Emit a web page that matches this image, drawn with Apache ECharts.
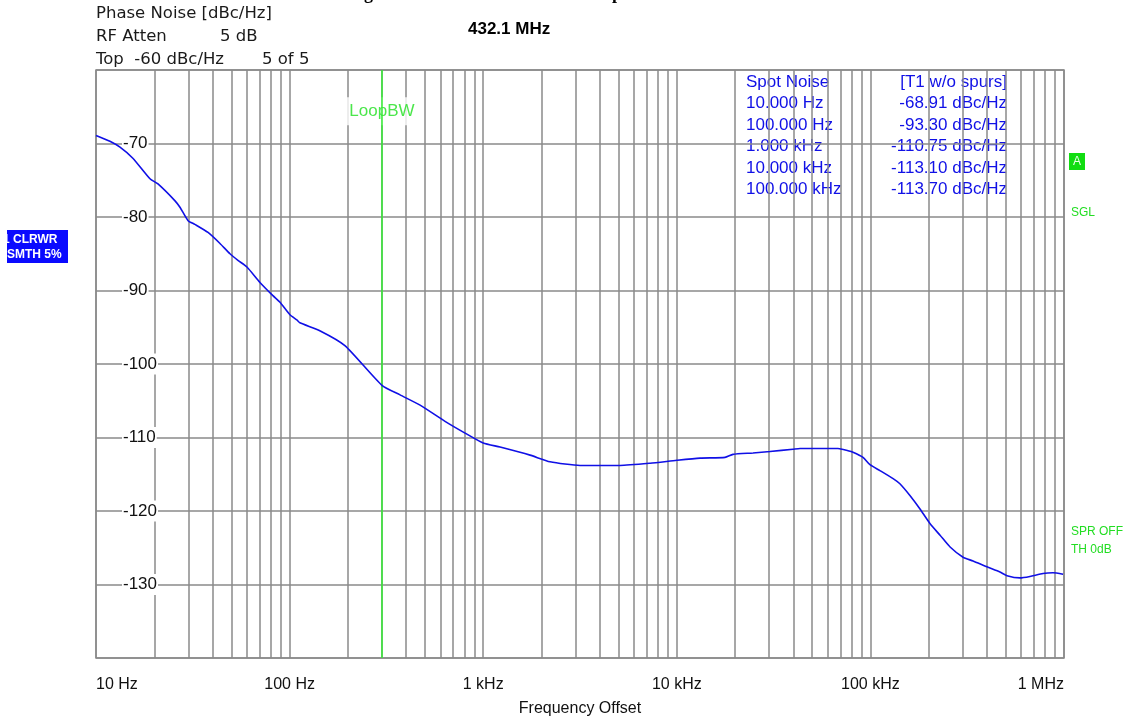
<!DOCTYPE html>
<html>
<head>
<meta charset="utf-8">
<script src="https://cdn.jsdelivr.net/npm/echarts@6/dist/echarts.min.js"></script>
<style>
html,body{margin:0;padding:0;background:#fff;}
#chart{width:1126px;height:717px;}
</style>
</head>
<body>
<div id="chart"></div>
<script>
// ---- data ----
const freqHz = [10, 11.8, 13.3, 15.5, 19.0, 20.9, 25.6, 27.2, 29.9, 32.4, 37.9, 43.7, 49.2, 54.1, 60.2, 70.3, 82.0, 89.2, 100.4, 109, 113, 144, 193, 300, 372, 472, 635, 806, 1000, 1222, 1746, 2214, 3162, 5090, 7278, 10000, 13180, 17750, 19500, 24770, 30300, 39800, 43300, 68000, 76600, 81300, 91600, 99500, 112000, 131000, 142000, 160000, 180000, 203000, 229000, 258000, 301000, 339000, 400000, 467000, 508000, 593000, 667000, 779000, 877000, 989000];
const noiseDbc = [-68.9, -69.7, -70.5, -72.0, -74.8, -75.5, -77.8, -78.7, -80.5, -81.0, -82.1, -83.6, -85.0, -85.9, -86.8, -88.9, -90.7, -91.6, -93.3, -94.0, -94.4, -95.5, -97.5, -102.9, -104.2, -105.6, -107.8, -109.4, -110.75, -111.3, -112.4, -113.3, -113.8, -113.8, -113.5, -113.1, -112.8, -112.7, -112.3, -112.1, -111.9, -111.6, -111.5, -111.5, -111.8, -112.0, -112.7, -113.7, -114.5, -115.6, -116.3, -117.9, -119.7, -121.7, -123.3, -124.9, -126.3, -126.8, -127.6, -128.3, -128.8, -129.1, -128.9, -128.5, -128.4, -128.6];

const decadeTicks = [10, 100, 1000, 10000, 100000, 1000000];
const decadeLabels = ['10 Hz', '100 Hz', '1 kHz', '10 kHz', '100 kHz', '1 MHz'];
const yTicks = [-140, -130, -120, -110, -100, -90, -80, -70, -60];

const loopBwHz = 300;
const loopBwLabel = 'LoopBW';

const spotHeader = ['Spot Noise', '[T1 w/o spurs]'];
const spotFreqLabels = ['10.000 Hz', '100.000 Hz', '1.000 kHz', '10.000 kHz', '100.000 kHz'];
const spotValues = ['-68.91', '-93.30', '-110.75', '-113.10', '-113.70'];

const headerLines = [['Phase Noise [dBc/Hz]', ''], ['RF Atten', '5 dB'], ['Top  -60 dBc/Hz', '5 of 5']];
const carrierLabel = '432.1 MHz';

// ---- chart ----
const GRID = {left: 96, right: 62, top: 70, bottom: 59};
const gridColor = '#8a8a8a';
const blue = '#1010e6';
const green = '#22dd22';

// minor log gridlines (2..9 within each decade)
const minorLines = [];
for (let d = 0; d < decadeTicks.length - 1; d++) {
  for (let m = 2; m <= 9; m++) minorLines.push({xAxis: decadeTicks[d] * m});
}

const labelMap = {};
decadeTicks.forEach((t, i) => labelMap[t] = decadeLabels[i]);

const graphics = [];
// header
const hy = [14, 37, 60];
const hx2 = [0, 220, 262];
headerLines.forEach((l, i) => {
  graphics.push({type: 'text', x: 96, y: hy[i], style: {text: l[0], font: '16.5px "DejaVu Sans"', fill: '#1a1a1a', textVerticalAlign: 'middle'}});
  if (l[1]) graphics.push({type: 'text', x: hx2[i], y: hy[i], style: {text: l[1], font: '16.5px "DejaVu Sans"', fill: '#1a1a1a', textVerticalAlign: 'middle'}});
});
graphics.push({type: 'text', x: 468, y: 29, style: {text: carrierLabel, font: 'bold 17px "Liberation Sans"', fill: '#000', textVerticalAlign: 'middle'}});
// cut-off caption fragments at very top
graphics.push({type: 'text', left: 364, top: -15, style: {text: 'g', font: 'bold 18px "Liberation Serif"', fill: '#000'}});
graphics.push({type: 'text', left: 612, top: -15, style: {text: 'p', font: 'bold 18px "Liberation Serif"', fill: '#000'}});

// spot noise table
const rowY = [82, 103.5, 125, 146.5, 168, 189.5];
const tFont = '17px "Liberation Sans"';
graphics.push({type: 'text', x: 746, y: rowY[0], style: {text: spotHeader[0], font: tFont, fill: blue, textVerticalAlign: 'middle'}});
graphics.push({type: 'text', x: 1007, y: rowY[0], style: {text: spotHeader[1], font: tFont, fill: blue, textAlign: 'right', textVerticalAlign: 'middle'}});
spotFreqLabels.forEach((f, i) => {
  graphics.push({type: 'text', x: 746, y: rowY[i + 1], style: {text: f, font: tFont, fill: blue, textVerticalAlign: 'middle'}});
  graphics.push({type: 'text', x: 1007, y: rowY[i + 1], style: {text: spotValues[i] + ' dBc/Hz', font: tFont, fill: blue, textAlign: 'right', textVerticalAlign: 'middle'}});
});

// left trace box
graphics.push({type: 'rect', shape: {x: 7, y: 230, width: 61, height: 33}, style: {fill: '#0a0aff'}});
graphics.push({type: 'text', x: 3, y: 240, style: {text: '1 CLRWR', font: 'bold 12px "Liberation Sans"', fill: '#fff', textVerticalAlign: 'middle'}});
graphics.push({type: 'text', x: 7, y: 255, style: {text: 'SMTH 5%', font: 'bold 12px "Liberation Sans"', fill: '#fff', textVerticalAlign: 'middle'}});

// right side status labels
graphics.push({type: 'rect', shape: {x: 1069, y: 153, width: 16, height: 17}, style: {fill: '#11dd11'}});
graphics.push({type: 'text', x: 1077, y: 162, style: {text: 'A', font: '12px "Liberation Sans"', fill: '#e8ffe8', textAlign: 'center', textVerticalAlign: 'middle'}});
graphics.push({type: 'text', x: 1071, y: 213, style: {text: 'SGL', font: '12px "Liberation Sans"', fill: green, textVerticalAlign: 'middle'}});
graphics.push({type: 'text', x: 1071, y: 532, style: {text: 'SPR OFF', font: '12px "Liberation Sans"', fill: green, textVerticalAlign: 'middle'}});
graphics.push({type: 'text', x: 1071, y: 550, style: {text: 'TH 0dB', font: '12px "Liberation Sans"', fill: green, textVerticalAlign: 'middle'}});

const chart = echarts.init(document.getElementById('chart'), null, {renderer: 'canvas'});
chart.setOption({
  backgroundColor: '#fff',
  animation: false,
  grid: Object.assign({show: true, borderColor: gridColor, borderWidth: 1.5, backgroundColor: 'transparent', containLabel: false, outerBoundsMode: 'none'}, GRID),
  xAxis: {
    type: 'log', logBase: 10, min: decadeTicks[0], max: decadeTicks[decadeTicks.length - 1],
    axisLine: {show: false}, axisTick: {show: false},
    splitLine: {show: true, lineStyle: {color: gridColor, width: 1.5}},
    axisLabel: {
      fontFamily: 'Liberation Sans', fontSize: 16, color: '#111', margin: 19,
      formatter: v => labelMap[Math.round(v)] || '',
      alignMinLabel: 'left', alignMaxLabel: 'right'
    },
    name: 'Frequency Offset', nameLocation: 'middle', nameGap: 43,
    nameTextStyle: {fontFamily: 'Liberation Sans', fontSize: 16, color: '#111'}
  },
  yAxis: {
    type: 'value', min: yTicks[0], max: yTicks[yTicks.length - 1], interval: 10,
    axisLine: {show: false}, axisTick: {show: false},
    splitLine: {show: true, lineStyle: {color: gridColor, width: 1.5}},
    axisLabel: {
      inside: true, margin: 26, showMinLabel: false, showMaxLabel: false,
      fontFamily: 'Liberation Sans', fontSize: 17, color: '#111',
      backgroundColor: '#fff', padding: [2, 1, 2, 1]
    },
    z: 5
  },
  graphic: graphics,
  series: [
    {
      name: 'minor-grid', type: 'line', data: [], silent: true, z: 1,
      markLine: {
        silent: true, symbol: 'none', animation: false,
        label: {show: false},
        lineStyle: {color: gridColor, width: 1.5, type: 'solid'},
        data: minorLines
      }
    },
    {
      name: 'loopbw-label', type: 'scatter', z: 6, silent: true,
      symbol: 'rect', symbolSize: [72, 28], itemStyle: {color: '#fff'},
      data: [[loopBwHz, -65.6]],
      label: {
        show: true, position: 'inside', formatter: loopBwLabel,
        fontFamily: 'Liberation Sans', fontSize: 17, color: '#1ee01e'
      }
    },
    {
      name: 'loopbw-line', type: 'line', z: 7, silent: true, symbol: 'none',
      lineStyle: {color: '#33ee33', width: 1.5},
      data: [[loopBwHz, yTicks[0]], [loopBwHz, yTicks[yTicks.length - 1]]]
    },
    {
      name: 'phase noise', type: 'line', z: 8, symbol: 'none', smooth: 0.2,
      lineStyle: {color: blue, width: 1.6},
      data: freqHz.map((f, i) => [f, noiseDbc[i]])
    }
  ]
});
</script>
</body>
</html>
